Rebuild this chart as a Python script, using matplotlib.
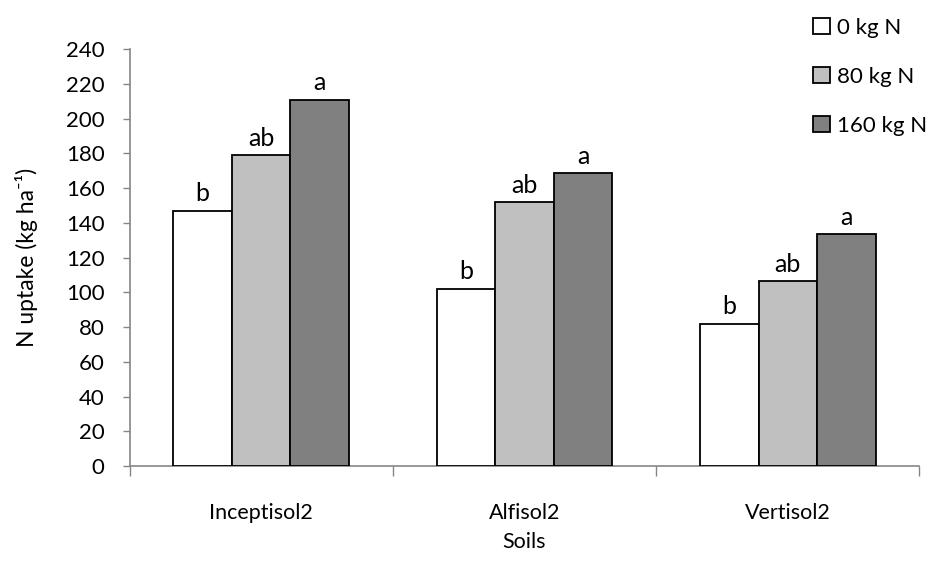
import matplotlib
matplotlib.use("Agg")
import matplotlib.pyplot as plt
import numpy as np

soils = ["Inceptisol2", "Alfisol2", "Vertisol2"]
series_names = ["0 kg N", "80 kg N", "160 kg N"]
uptake_0 = [147, 102, 82]
uptake_80 = [179, 152, 106.5]
uptake_160 = [211, 168.5, 133.5]
letters_0 = ["b", "b", "b"]
letters_80 = ["ab", "ab", "ab"]
letters_160 = ["a", "a", "a"]
yticks = list(range(0, 241, 20))

plt.rcParams["font.family"] = ["Lato", "DejaVu Sans"]

fig = plt.figure(figsize=(9.34, 5.68), dpi=100)
ax = fig.add_axes([0.1387, 0.1796, 0.9844 - 0.1387, 0.9132 - 0.1796])

values = [uptake_0, uptake_80, uptake_160]
letters = [letters_0, letters_80, letters_160]
colors = ["#FFFFFF", "#C0C0C0", "#808080"]
width = 2 / 9
x = np.arange(len(soils))

for i, (vals, lab, col, lets) in enumerate(zip(values, series_names, colors, letters)):
    pos = x + (i - 1) * width
    ax.bar(pos, vals, width=width, color=col, edgecolor="black", linewidth=1.3,
           label=lab, zorder=3)
    for px, v, t in zip(pos, vals, lets):
        ax.annotate(t, (px, v), xytext=(0, 4), textcoords="offset points",
                    ha="center", va="bottom", fontsize=18)

ax.set_xlim(-0.5, 2.5)
ax.set_ylim(0, 240)
ax.set_yticks(yticks)
ax.tick_params(axis="y", labelsize=16, length=5, width=1, color="#868686", pad=13)
ax.set_xticks([-0.5, 0.5, 1.5, 2.5])
ax.set_xticklabels([])
ax.set_xticks(x, minor=True)
ax.set_xticklabels(soils, minor=True)
ax.tick_params(axis="x", which="major", length=7, width=1, color="#868686")
ax.tick_params(axis="x", which="minor", length=0, labelsize=15.5, pad=27)

for side in ["top", "right"]:
    ax.spines[side].set_visible(False)
for side in ["left", "bottom"]:
    ax.spines[side].set_color("#868686")
    ax.spines[side].set_linewidth(1.2)

ax.set_ylabel("N uptake (kg ha\u207b\u00b9)", fontsize=16.5, labelpad=20)
ax.set_xlabel("Soils", fontsize=15.5, labelpad=6)

leg = ax.legend(loc="upper left", bbox_to_anchor=(813 / 934, 1 - 18 / 568),
                bbox_transform=fig.transFigure, frameon=False, fontsize=16,
                handlelength=0.75, handleheight=0.75, handletextpad=0.35,
                labelspacing=1.3, borderpad=0, borderaxespad=0)

fig.savefig("out.png", dpi=100)
